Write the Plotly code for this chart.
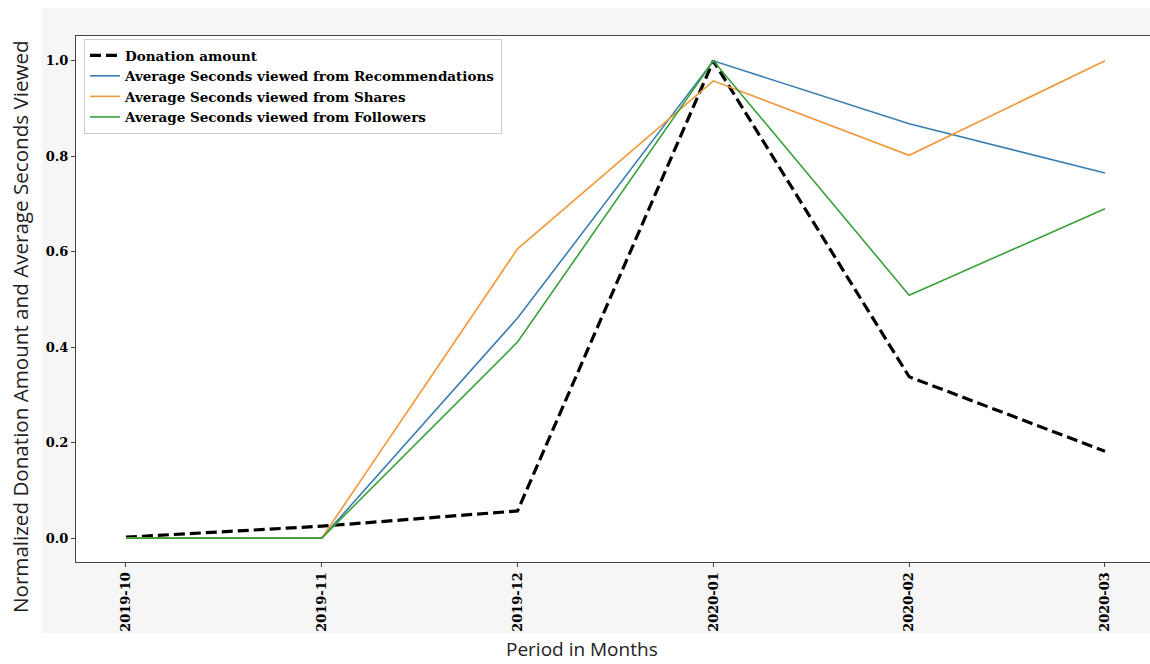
import plotly.graph_objects as go

months = ["2019-10", "2019-11", "2019-12", "2020-01", "2020-02", "2020-03"]
donation = [0.002, 0.025, 0.057, 1.0, 0.338, 0.182]
recommendations = [0.0, 0.0, 0.461, 1.0, 0.868, 0.765]
shares = [0.0, 0.0, 0.606, 0.958, 0.802, 1.0]
followers = [0.0, 0.0, 0.411, 1.0, 0.509, 0.690]

series_names = [
    "Donation amount",
    "Average Seconds viewed from Recommendations",
    "Average Seconds viewed from Shares",
    "Average Seconds viewed from Followers",
]
y_ticks = [0.0, 0.2, 0.4, 0.6, 0.8, 1.0]

x_idx = list(range(len(months)))
serif = dict(family="DejaVu Serif", size=13, color="black", weight="bold")
legend_font = dict(family="DejaVu Serif", size=13.5, color="black", weight="bold")

fig = go.Figure()
fig.add_trace(go.Scatter(x=x_idx, y=donation, mode="lines", name=series_names[0],
                         line=dict(color="black", width=3.2, dash="11px,5px")))
fig.add_trace(go.Scatter(x=x_idx, y=recommendations, mode="lines", name=series_names[1],
                         line=dict(color="#3a7db0", width=1.6)))
fig.add_trace(go.Scatter(x=x_idx, y=shares, mode="lines", name=series_names[2],
                         line=dict(color="#f0983a", width=1.6)))
fig.add_trace(go.Scatter(x=x_idx, y=followers, mode="lines", name=series_names[3],
                         line=dict(color="#3aa03a", width=1.6)))

W, H = 1150, 664
L, R, T, B = 76, 0, 36, 102
pw, ph = W - L - R, H - T - B

def px_x(x):
    return (x - L) / pw

def px_y(y):
    return (H - B - y) / ph

fig.update_layout(
    width=W, height=H,
    margin=dict(l=L, r=R, t=T, b=B, pad=0),
    paper_bgcolor="white",
    plot_bgcolor="white",
    showlegend=True,
    legend=dict(
        x=px_x(84), y=px_y(39), xanchor="left", yanchor="top",
        bgcolor="white", bordercolor="#cccccc", borderwidth=1,
        font=legend_font, itemwidth=30, tracegroupgap=0,
    ),
    xaxis=dict(
        range=[-0.255, 5.23], tickmode="array", tickvals=x_idx, ticktext=months,
        tickangle=-90, showgrid=False, zeroline=False,
        showline=True, linecolor="#444444", linewidth=1, mirror=True,
        ticks="outside", ticklen=4, tickcolor="#444444", tickfont=serif,
    ),
    yaxis=dict(
        range=[-0.05, 1.052], tickmode="array", tickvals=y_ticks,
        tickformat=".1f", showgrid=False, zeroline=False,
        showline=True, linecolor="#444444", linewidth=1, mirror=True,
        ticks="outside", ticklen=4, tickcolor="#444444", tickfont=serif,
    ),
    shapes=[
        dict(type="rect", xref="paper", yref="paper", layer="below",
             x0=px_x(42), x1=px_x(1150), y0=px_y(633), y1=px_y(8),
             fillcolor="#f6f6f6", line=dict(width=0)),
        dict(type="rect", xref="paper", yref="paper", layer="below",
             x0=0, x1=1, y0=0, y1=1,
             fillcolor="white", line=dict(width=0)),
    ],
    annotations=[
        dict(text="Normalized Donation Amount and Average Seconds Viewed",
             xref="paper", yref="paper", x=px_x(20), y=px_y(327),
             xanchor="center", yanchor="middle", textangle=-90, showarrow=False,
             font=dict(family="Open Sans", size=20.6, color="#222222")),
        dict(text="Period in Months",
             xref="paper", yref="paper", x=px_x(582), y=px_y(649),
             xanchor="center", yanchor="middle", showarrow=False,
             font=dict(family="Open Sans", size=19, color="#222222")),
    ],
)

fig.write_html(
    "out.html",
    config={"displayModeBar": False},
    post_script="document.body.style.margin='0';document.body.style.overflow='hidden';",
)
